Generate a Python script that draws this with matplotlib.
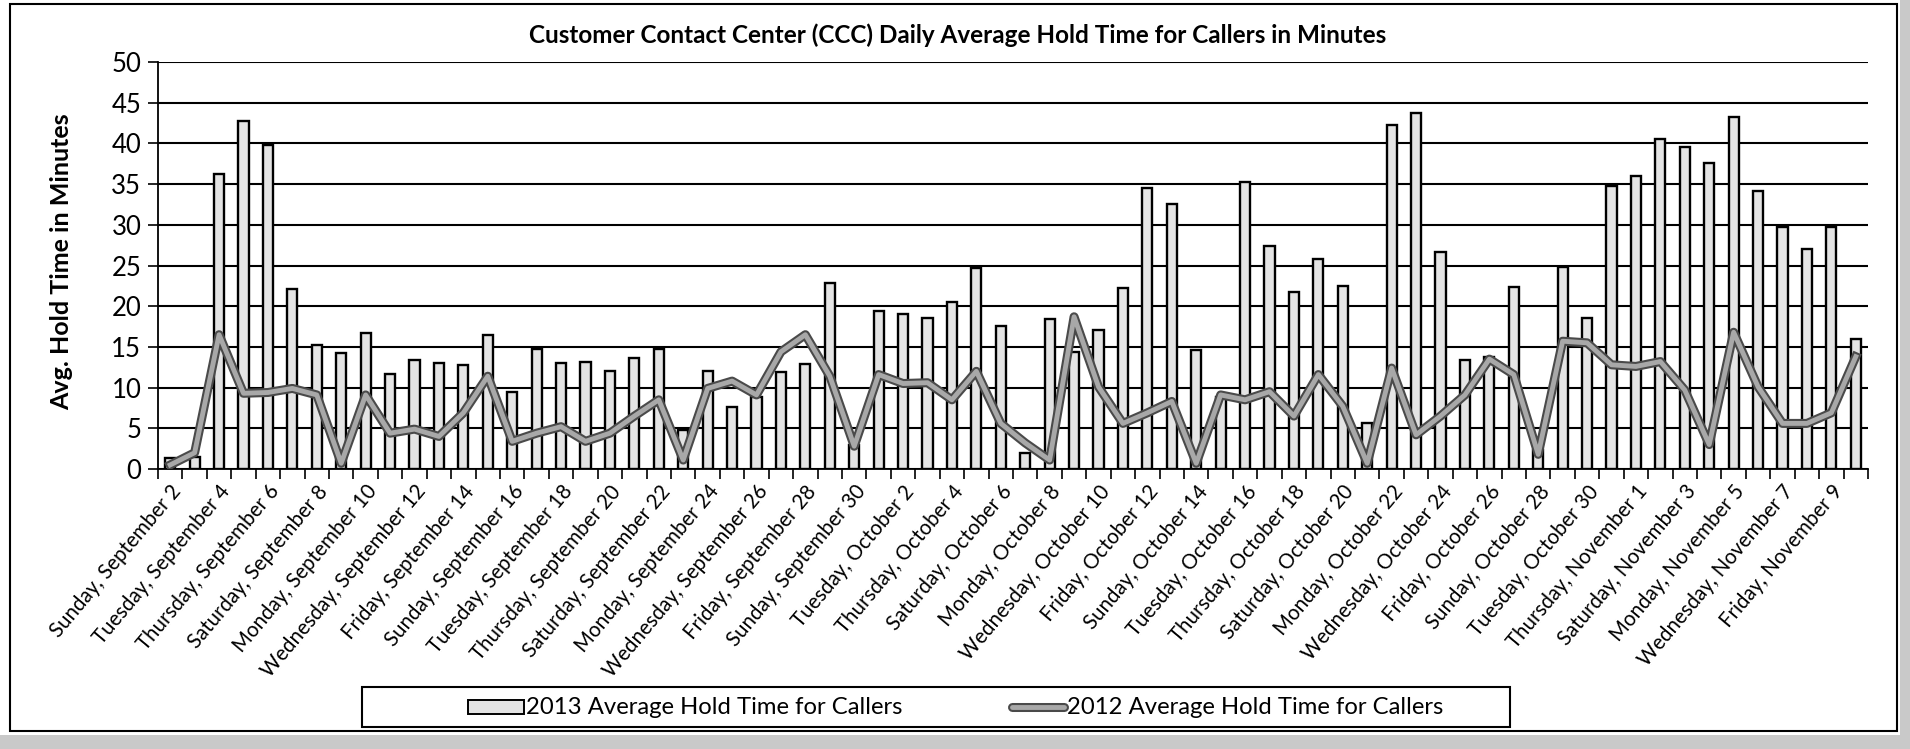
import numpy as np
import pandas as pd
import matplotlib
matplotlib.use("Agg")
import matplotlib.pyplot as plt
import matplotlib.patheffects as pe
from matplotlib.patches import Rectangle
from matplotlib.lines import Line2D

plt.rcParams['font.family'] = ['Lato', 'DejaVu Sans']

# days shown on the category axis (Sept 2 - Nov 10)
dates = pd.date_range("2012-09-02", "2012-11-10", freq="D")
day_labels = [f"{d.day_name()}, {d.month_name()} {d.day}" for d in dates]

hold_2013 = [1.35, 1.5, 36.2, 42.8, 39.8, 22.1, 15.2, 14.2, 16.7, 11.7,
             13.4, 13.0, 12.8, 16.5, 9.4, 14.8, 13.0, 13.2, 12.0, 13.6,
             14.8, 4.8, 12.0, 7.6, 8.9, 11.9, 12.9, 22.9, 3.0, 19.4,
             19.1, 18.6, 20.5, 24.7, 17.6, 2.0, 18.4, 14.4, 17.1, 22.2,
             34.5, 32.5, 14.6, 8.9, 35.2, 27.4, 21.8, 25.8, 22.5, 5.6,
             42.2, 43.7, 26.7, 13.4, 13.8, 22.3, 2.3, 24.8, 18.6, 34.8,
             36.0, 40.5, 39.6, 37.6, 43.3, 34.2, 29.7, 27.0, 29.7, 16.0]

hold_2012 = [0.5, 2.0, 16.5, 9.3, 9.4, 9.9, 9.1, 0.7, 9.1, 4.4,
             4.9, 4.0, 6.9, 11.4, 3.4, 4.4, 5.2, 3.4, 4.4, 6.5,
             8.5, 1.1, 9.9, 10.8, 9.1, 14.4, 16.5, 11.4, 2.8, 11.6,
             10.5, 10.6, 8.5, 12.0, 5.6, 3.2, 1.1, 18.7, 10.1, 5.6,
             6.9, 8.3, 0.7, 9.1, 8.5, 9.5, 6.5, 11.6, 7.7, 0.7,
             12.4, 4.2, 6.5, 9.1, 13.5, 11.6, 1.8, 15.7, 15.5, 12.8,
             12.6, 13.2, 9.7, 3.0, 16.8, 10.1, 5.6, 5.6, 6.9, 13.8]

title = "Customer Contact Center (CCC) Daily Average Hold Time for Callers in Minutes"
label_2013 = "2013 Average Hold Time for Callers"
label_2012 = "2012 Average Hold Time for Callers"

W, H = 1910, 749
def fx(px):
    return px / W
def fy(py):
    return 1 - py / H

bar_face = "#e4e4e4"
line_in = "#a8a8a8"
line_out = "#4a4a4a"

fig = plt.figure(figsize=(W / 100, H / 100), dpi=100)
ax = fig.add_axes([fx(158), fy(469), fx(1868) - fx(158), fy(62) - fy(469)])

x = np.arange(len(dates))
ax.bar(x, hold_2013, width=0.42, color=bar_face, edgecolor="black", linewidth=1.7, zorder=3)
ax.plot(x, hold_2012, color=line_in, lw=3.5, zorder=4, solid_joinstyle="round",
        path_effects=[pe.Stroke(linewidth=6.5, foreground=line_out), pe.Normal()])

ax.set_xlim(-0.5, len(dates) - 0.5)
ax.set_ylim(0, 50)
ax.set_yticks(np.arange(0, 51, 5))
ax.yaxis.grid(True, color="black", lw=1.5, zorder=0)
ax.set_axisbelow(True)
for s in ["top", "right"]:
    ax.spines[s].set_visible(False)
ax.spines["left"].set_linewidth(1.3)
ax.spines["bottom"].set_linewidth(1.3)
ax.tick_params(axis="y", labelsize=18.5, length=7, width=1.2, pad=5)

ax.set_xticks(x[::2])
ax.set_xticklabels(day_labels[::2], rotation=50, ha="right", rotation_mode="anchor", fontsize=14.8)
ax.tick_params(axis="x", which="major", length=0, pad=9)
ax.set_xticks(np.arange(-0.5, len(dates), 1), minor=True)
ax.tick_params(axis="x", which="minor", length=7, width=1.2, direction="out")

fig.text(fx(958), fy(35), title, ha="center", va="center", fontsize=17.5, fontweight="bold")
fig.text(fx(62), fy(262), "Avg. Hold Time in Minutes", ha="center", va="center",
         rotation=90, fontsize=18, fontweight="bold")

# legend drawn as a boxed strip under the labels
fig.patches.append(Rectangle((fx(362), fy(727)), fx(1510) - fx(362), fy(687) - fy(727),
                             transform=fig.transFigure, fill=False, edgecolor="black", lw=1.5))
fig.patches.append(Rectangle((fx(468), fy(714)), fx(524) - fx(468), fy(700) - fy(714),
                             transform=fig.transFigure, facecolor=bar_face, edgecolor="black", lw=1.4))
fig.text(fx(526), fy(707), label_2013, ha="left", va="center", fontsize=17.2)
fig.lines.append(Line2D([fx(1012), fx(1064)], [fy(707), fy(707)], transform=fig.transFigure,
                        color=line_in, lw=3.5, solid_capstyle="round",
                        path_effects=[pe.Stroke(linewidth=6.5, foreground=line_out), pe.Normal()]))
fig.text(fx(1067), fy(707), label_2012, ha="left", va="center", fontsize=17.2)

# chart border and scan margins
fig.patches.append(Rectangle((fx(10), fy(731)), fx(1897) - fx(10), fy(4) - fy(731),
                             transform=fig.transFigure, fill=False, edgecolor="black", lw=1.5))
fig.patches.append(Rectangle((0, 0), 1, fy(735), transform=fig.transFigure,
                             facecolor="#c9c9c9", edgecolor="none"))
fig.patches.append(Rectangle((fx(1900), 0), 1 - fx(1900), 1, transform=fig.transFigure,
                             facecolor="#c9c9c9", edgecolor="none"))

fig.savefig("out.png", dpi=100)
